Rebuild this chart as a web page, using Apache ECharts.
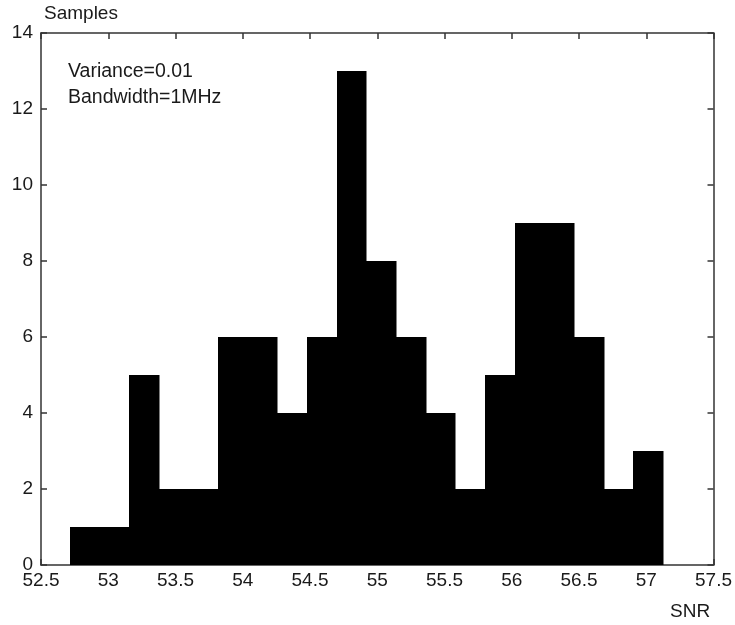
<!DOCTYPE html>
<html>
<head>
<meta charset="utf-8">
<script src="https://cdn.jsdelivr.net/npm/echarts@6/dist/echarts.min.js"></script>
<style>
  html, body { margin: 0; padding: 0; background: #fff; }
  #chart { width: 735px; height: 625px; }
</style>
</head>
<body>
<div id="chart"></div>
<script>
// Histogram of SNR samples: 20 equal-width bins
const binStart = 52.715;
const binWidth = 0.2204;
const counts = [1, 1, 5, 2, 2, 6, 6, 4, 6, 13, 8, 6, 4, 2, 5, 9, 9, 6, 2, 3];

const xTicks = { min: 52.5, max: 57.5, interval: 0.5 };
const yTicks = { min: 0, max: 14, interval: 2 };

const notes = ['Variance=0.01', 'Bandwidth=1MHz'];
const xName = 'SNR';
const yName = 'Samples';

const bins = counts.map((c, i) => [binStart + i * binWidth, binStart + (i + 1) * binWidth, c]);

const FONT = 'Liberation Sans, Arial, sans-serif';
const lineCol = '#333';
const textCol = '#1a1a1a';

const chart = echarts.init(document.getElementById('chart'), null, { renderer: 'canvas' });

const frameAxis = (extra) => Object.assign({
  axisLine: { show: true, onZero: false, lineStyle: { color: lineCol, width: 1.5 } },
  axisTick: { show: true, inside: true, length: 6, lineStyle: { color: lineCol, width: 1.5 } },
  splitLine: { show: false }
}, extra);

chart.setOption({
  animation: false,
  backgroundColor: '#fff',
  grid: { left: 41, right: 21, top: 33, bottom: 60 },
  xAxis: [
    frameAxis({
      type: 'value', position: 'bottom', ...xTicks,
      axisLabel: { color: textCol, fontSize: 19, fontFamily: FONT, margin: 6 }
    }),
    frameAxis({
      type: 'value', position: 'top', ...xTicks,
      axisLabel: { show: false }
    })
  ],
  yAxis: [
    frameAxis({
      type: 'value', position: 'left', ...yTicks,
      axisLabel: { color: textCol, fontSize: 19, fontFamily: FONT, margin: 8 }
    }),
    frameAxis({
      type: 'value', position: 'right', ...yTicks,
      axisLabel: { show: false }
    })
  ],
  series: [{
    type: 'custom',
    xAxisIndex: 0,
    yAxisIndex: 0,
    data: bins,
    encode: { x: [0, 1], y: 2 },
    renderItem: function (params, api) {
      const p0 = api.coord([api.value(0), 0]);
      const p1 = api.coord([api.value(1), api.value(2)]);
      const x0 = Math.round(p0[0]);
      const x1 = Math.round(p1[0]);
      return {
        type: 'rect',
        shape: { x: x0, y: p1[1], width: x1 - x0 + 0.5, height: p0[1] - p1[1] },
        style: { fill: '#000' }
      };
    }
  }],
  graphic: [
    { type: 'text', left: 44, top: 4, style: { text: yName, fill: textCol, font: '19px ' + FONT } },
    { type: 'text', left: 670, top: 602, style: { text: xName, fill: textCol, font: '19px ' + FONT } },
    { type: 'text', left: 68, top: 62, style: { text: notes[0], fill: textCol, font: '19.5px ' + FONT } },
    { type: 'text', left: 68, top: 88, style: { text: notes[1], fill: textCol, font: '19.5px ' + FONT } }
  ]
});
</script>
</body>
</html>
